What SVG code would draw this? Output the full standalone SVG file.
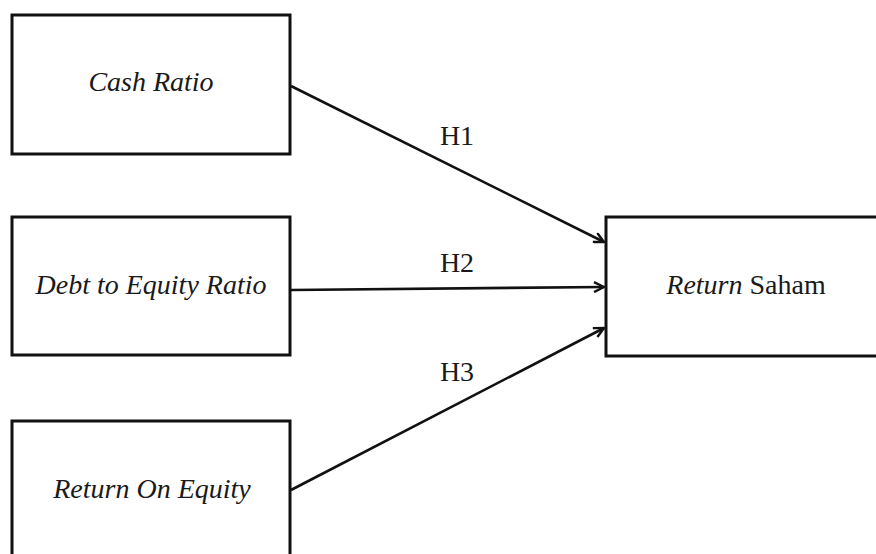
<svg xmlns="http://www.w3.org/2000/svg" width="876" height="554" viewBox="0 0 876 554">
<style>
.box{fill:#fff;stroke:#111;stroke-width:3}
.t{font-family:"Liberation Serif","Times New Roman",serif;font-size:28px;fill:#1a1a1a;text-anchor:middle}
.i{font-style:italic}
.c{stroke:#111;stroke-width:2.6;fill:none}
</style>
<defs>
<marker id="ah" viewBox="0 0 12 12" refX="11" refY="6" markerWidth="12" markerHeight="12" markerUnits="userSpaceOnUse" orient="auto">
<path d="M1,1 L11,6 L1,11" fill="none" stroke="#111" stroke-width="2.4"/>
</marker>
</defs>
<rect width="876" height="554" fill="#fff"/>
<g id="n1"><rect class="box" x="12" y="15" width="278" height="139"/><text class="t i" x="151" y="91">Cash Ratio</text></g>
<g id="n2"><rect class="box" x="12" y="217" width="278" height="138"/><text class="t i" x="151" y="294">Debt to Equity Ratio</text></g>
<g id="n3"><rect class="box" x="12" y="421" width="278" height="150"/><text class="t i" x="152" y="498">Return On Equity</text></g>
<g id="n4"><rect class="box" x="606" y="217" width="280" height="139"/><text class="t" x="746" y="294"><tspan class="i">Return</tspan> Saham</text></g>
<g id="connectors">
<line class="c" x1="291" y1="86" x2="604" y2="242" marker-end="url(#ah)"/>
<line class="c" x1="291" y1="290" x2="604" y2="287" marker-end="url(#ah)"/>
<line class="c" x1="291" y1="490" x2="604" y2="328" marker-end="url(#ah)"/>
<text class="t" x="457" y="145">H1</text>
<text class="t" x="457" y="272">H2</text>
<text class="t" x="457" y="381">H3</text>
</g>
</svg>
